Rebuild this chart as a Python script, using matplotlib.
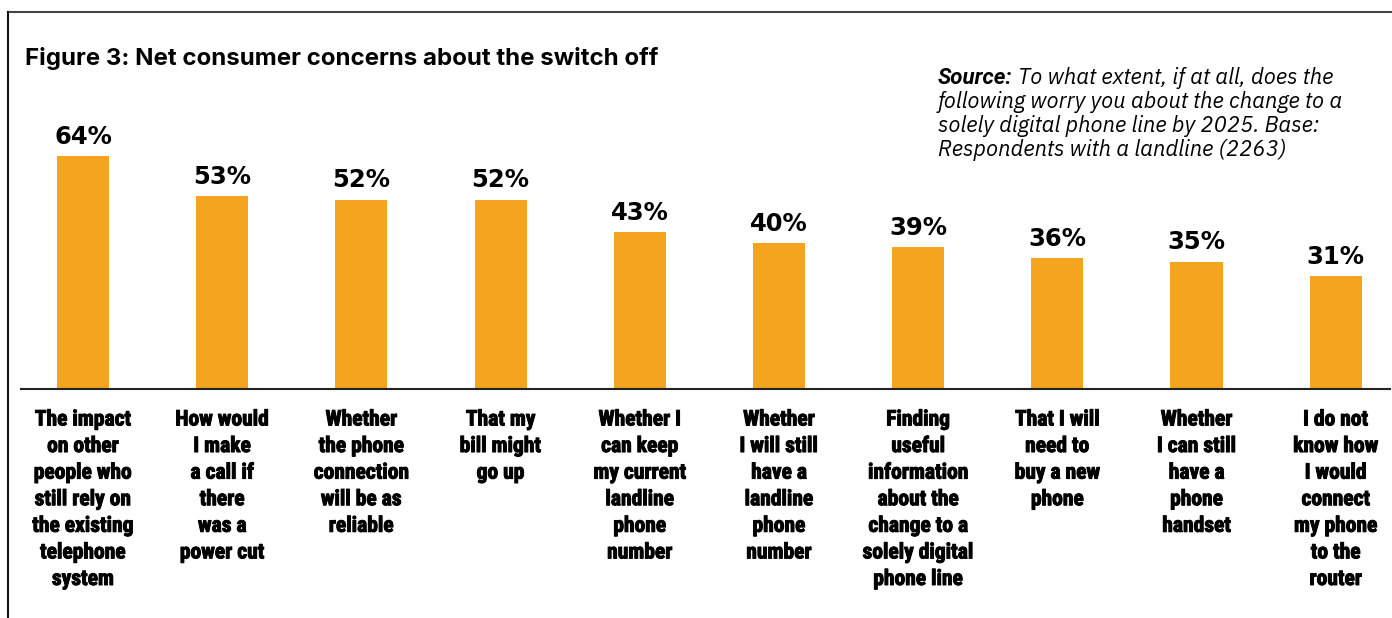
import matplotlib
matplotlib.use("Agg")
import matplotlib.pyplot as plt
import matplotlib.patheffects as pe
from matplotlib.lines import Line2D

# data
categories = [
    "The impact\non other\npeople who\nstill rely on\nthe existing\ntelephone\nsystem",
    "How would\nI make\na call if\nthere\nwas a\npower cut",
    "Whether\nthe phone\nconnection\nwill be as\nreliable",
    "That my\nbill might\ngo up",
    "Whether I\ncan keep\nmy current\nlandline\nphone\nnumber",
    "Whether\nI will still\nhave a\nlandline\nphone\nnumber",
    "Finding\nuseful\ninformation\nabout the\nchange to a\nsolely digital\nphone line",
    "That I will\nneed to\nbuy a new\nphone",
    "Whether\nI can still\nhave a\nphone\nhandset",
    "I do not\nknow how\nI would\nconnect\nmy phone\nto the\nrouter",
]
values = [64, 53, 52, 52, 43, 40, 39, 36, 35, 31]

title = "Figure 3: Net consumer concerns about the switch off"
source_head = "Source:"
source_body = ("To what extent, if at all, does the\n"
               "following worry you about the change to a\n"
               "solely digital phone line by 2025. Base:\n"
               "Respondents with a landline (2263)")

bar_color = "#F4A41E"
narrow = ["Roboto Condensed", "Roboto", "DejaVu Sans"]
wide = ["Inter", "DejaVu Sans"]
plex = ["IBM Plex Sans", "Open Sans", "DejaVu Sans"]

W, H = 1392, 618
fig = plt.figure(figsize=(W / 100, H / 100), dpi=100)

# frame lines (top and left)
fig.add_artist(Line2D([8 / W, 1], [1 - 12 / H, 1 - 12 / H], color="#444444", lw=1.5))
fig.add_artist(Line2D([8 / W, 8 / W], [0, 1 - 12 / H], color="#111111", lw=1.5))

fig.text(25 / W, 1 - 58 / H, title, fontsize=17.3, fontweight="bold",
         family=wide, va="center", ha="left")

src = fig.text(938 / W, 1 - 78 / H, source_head, fontsize=16, fontweight="bold",
               style="italic", family=["Roboto", "DejaVu Sans"], va="center", ha="left")
fig.canvas.draw()
head_w = src.get_window_extent().width
lines = source_body.split("\n")
fig.text((938 + head_w + 5) / W, 1 - 78 / H, lines[0], fontsize=15.8,
         style="italic", family=plex, va="center", ha="left")
for i, line in enumerate(lines[1:]):
    fig.text(938 / W, 1 - (102 + 24 * i) / H, line, fontsize=15.8,
             style="italic", family=plex, va="center", ha="left")

ax_bottom = (H - 389) / H
ax_h = 255 / H
ax = fig.add_axes([21 / W, ax_bottom, (1390 - 21) / W, ax_h])
x = list(range(len(values)))
ax.bar(x, values, width=0.374, color=bar_color, zorder=2)
ax.set_xlim(-0.445, 9.39)
ax.set_ylim(0, 70)
for xi, v in zip(x, values):
    ax.text(xi, v + 2.0, f"{v}%", ha="center", va="bottom", fontsize=17.5,
            fontweight="bold", family="DejaVu Sans")

ax.set_xticks(x)
ax.set_xticklabels(categories, fontsize=15.5, fontweight="bold", family=narrow,
                   linespacing=1.27, va="top")
# heavier strokes, the original labels use a black weight
for lab in ax.get_xticklabels():
    lab.set_path_effects([pe.withStroke(linewidth=0.7, foreground="black")])
ax.tick_params(axis="x", length=0, pad=14)
ax.set_yticks([])
for s in ["top", "right", "left"]:
    ax.spines[s].set_visible(False)
ax.spines["bottom"].set_color("#222222")
ax.spines["bottom"].set_linewidth(1.5)
ax.spines["bottom"].set_zorder(3)

fig.savefig("out.png", dpi=100)
